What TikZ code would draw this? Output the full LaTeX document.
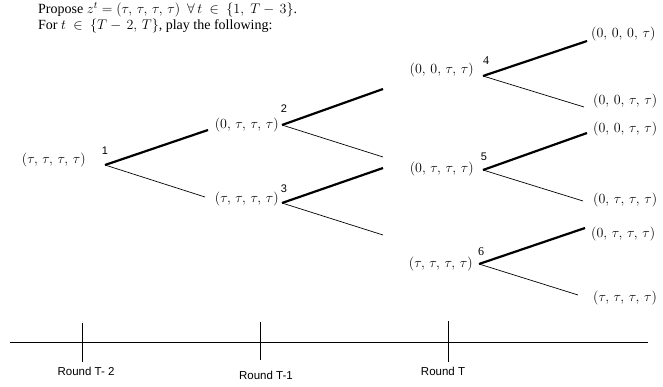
\RequirePackage{fix-cm}
\documentclass[tikz,border=0pt]{standalone}
\usepackage{fontspec}
\setmainfont{Liberation Serif}
\setsansfont{Liberation Sans}

\newcommand{\tup}[4]{$(#1,\,#2,\,#3,\,#4)$}

\begin{document}
\begin{tikzpicture}[x=1pt,y=-1pt,
    state/.style={inner sep=1pt,font=\fontsize{14}{16}\selectfont},
    num/.style={inner sep=0pt,font=\sffamily\fontsize{11}{12}\selectfont},
    snum/.style={inner sep=0pt,font=\fontsize{12}{13}\selectfont},
    play/.style={line width=2.2pt},
    alt/.style={line width=0.7pt},
    rnd/.style={inner sep=0pt,font=\sffamily\fontsize{11.5}{13}\selectfont}]
    \useasboundingbox (0,0) rectangle (663,387);

    % proposal text
    \node[anchor=base west,inner sep=0pt,font=\fontsize{14}{16}\selectfont] (head1) at (38,14)
        {Propose $z^t = (\tau,\,\tau,\,\tau,\,\tau)\ \ \forall\, t\ \in\ \{1,\; T-\,3\}$.};
    \node[anchor=base west,inner sep=0pt,font=\fontsize{14}{16}\selectfont] (head2) at (38,30)
        {For $t\ \in\ \{T-\,2,\, T\}$, play the following:};

    % round T-2
    \node[state,anchor=east] (s1) at (87,160) {\tup{\tau}{\tau}{\tau}{\tau}};
    \node[num] (n1) at (105,151) {1};
    \coordinate (b1) at (105,165);

    % round T-1
    \node[state,anchor=east] (s2) at (280,125) {\tup{0}{\tau}{\tau}{\tau}};
    \node[num] (n2) at (284,109) {2};
    \coordinate (b2) at (282,125);
    \node[state,anchor=east] (s3) at (280,199) {\tup{\tau}{\tau}{\tau}{\tau}};
    \node[num] (n3) at (284,189) {3};
    \coordinate (b3) at (282,203);

    % round T
    \node[state,anchor=east] (s4) at (475,70) {\tup{0}{0}{\tau}{\tau}};
    \node[snum] (n4) at (486,61) {4};
    \coordinate (b4) at (483,76);
    \node[state,anchor=east] (s5) at (475,169) {\tup{0}{\tau}{\tau}{\tau}};
    \node[num] (n5) at (484,157) {5};
    \coordinate (b5) at (483,170);
    \node[state,anchor=east] (s6) at (474,264) {\tup{\tau}{\tau}{\tau}{\tau}};
    \node[snum] (n6) at (481,252) {6};
    \coordinate (b6) at (479,264);

    % outcomes
    \node[state,anchor=west] (l1) at (590,34) {\tup{0}{0}{0}{\tau}};
    \node[state,anchor=west] (l2) at (592,101) {\tup{0}{0}{\tau}{\tau}};
    \node[state,anchor=west] (l3) at (592,129) {\tup{0}{0}{\tau}{\tau}};
    \node[state,anchor=west] (l4) at (592,200) {\tup{0}{\tau}{\tau}{\tau}};
    \node[state,anchor=west] (l5) at (590,234) {\tup{0}{\tau}{\tau}{\tau}};
    \node[state,anchor=west] (l6) at (592,298) {\tup{\tau}{\tau}{\tau}{\tau}};

    % branch ends
    \coordinate (e2) at (208,130);
    \coordinate (e3) at (205,197);
    \coordinate (e4a) at (383,89);
    \coordinate (e4b) at (383,157);
    \coordinate (e5a) at (383,168);
    \coordinate (e5b) at (383,235);
    \coordinate (f1) at (587,41);
    \coordinate (f2) at (584,107);
    \coordinate (f3) at (587,133);
    \coordinate (f4) at (583,201);
    \coordinate (f5) at (585,228);
    \coordinate (f6) at (578,295);

    \draw[play] (b1) -- (e2);
    \draw[alt] (b1) -- (e3);
    \draw[play] (b2) -- (e4a);
    \draw[alt] (b2) -- (e4b);
    \draw[play] (b3) -- (e5a);
    \draw[alt] (b3) -- (e5b);
    \draw[play] (b4) -- (f1);
    \draw[alt] (b4) -- (f2);
    \draw[play] (b5) -- (f3);
    \draw[alt] (b5) -- (f4);
    \draw[play] (b6) -- (f5);
    \draw[alt] (b6) -- (f6);

    % time line
    \coordinate (a0) at (10,342);
    \coordinate (a1) at (648,342);
    \draw[line width=0.8pt] (a0) -- (a1);
    \coordinate (k1t) at (82,323);
    \coordinate (k1b) at (82,362);
    \coordinate (k2t) at (260,322);
    \coordinate (k2b) at (260,360);
    \coordinate (k3t) at (448,321);
    \coordinate (k3b) at (448,362);
    \draw[line width=0.8pt] (k1t) -- (k1b);
    \draw[line width=0.8pt] (k2t) -- (k2b);
    \draw[line width=0.8pt] (k3t) -- (k3b);
    \node[rnd,anchor=north] (r1) at (86,367) {Round T- 2};
    \node[rnd,anchor=north] (r2) at (266,371) {Round T-1};
    \node[rnd,anchor=north] (r3) at (443,367) {Round T};
\end{tikzpicture}
\end{document}
